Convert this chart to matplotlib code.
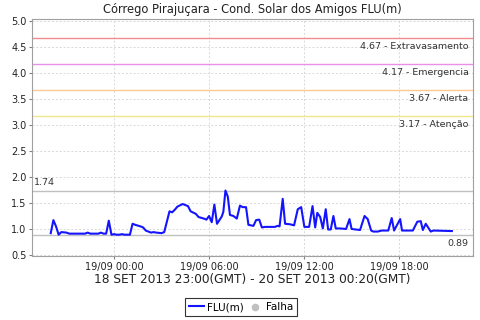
import matplotlib
matplotlib.use("Agg")
import matplotlib.pyplot as plt
import matplotlib.dates as mdates
from datetime import datetime, timedelta

title = "Córrego Pirajuçara - Cond. Solar dos Amigos FLU(m)"
xlabel = "18 SET 2013 23:00(GMT) - 20 SET 2013 00:20(GMT)"
start = datetime(2013, 9, 18, 20, 0)

minutes = [0, 10, 20, 30, 40, 60, 70, 130, 140, 150, 180, 190, 200, 210, 220, 230,
           240, 250, 260, 270, 280, 300, 310, 320, 340, 350, 360, 380, 390, 400, 420,
           430, 450, 460, 470, 480, 500, 510, 520, 530, 550, 560, 580, 590, 600, 610,
           620, 630, 648, 654, 662, 671, 679, 692, 705, 717, 727, 740, 749, 768, 778,
           790, 800, 812, 850, 859, 867, 879, 888, 907, 922, 936, 949, 961, 979, 992,
           1002, 1010, 1021, 1031, 1042, 1051, 1061, 1071, 1080, 1096, 1119, 1132, 1140,
           1172, 1189, 1201, 1214, 1222, 1239, 1254, 1279, 1292, 1301, 1324, 1331, 1372,
           1389, 1402, 1410, 1421, 1440, 1450, 1520]
flu = [0.92, 1.17, 1.05, 0.89, 0.94, 0.93, 0.91, 0.91, 0.93, 0.91, 0.91, 0.93, 0.91, 0.91, 1.16, 0.89,
       0.90, 0.89, 0.89, 0.90, 0.89, 0.89, 1.10, 1.08, 1.05, 1.03, 0.97, 0.93, 0.94, 0.93, 0.92,
       0.94, 1.34, 1.32, 1.37, 1.43, 1.48, 1.46, 1.44, 1.34, 1.29, 1.23, 1.20, 1.18, 1.25, 1.13,
       1.47, 1.10, 1.24, 1.33, 1.74, 1.62, 1.27, 1.25, 1.20, 1.45, 1.42, 1.42, 1.08, 1.06, 1.17,
       1.18, 1.03, 1.04, 1.04, 1.06, 1.05, 1.58, 1.10, 1.09, 1.07, 1.38, 1.42, 1.04, 1.04, 1.44,
       1.03, 1.31, 1.23, 1.01, 1.38, 0.99, 0.99, 1.25, 1.01, 1.01, 1.00, 1.19, 1.00,
       0.98, 1.25, 1.19, 0.97, 0.95, 0.95, 0.97, 0.97, 1.21, 0.97, 1.19, 0.97, 0.97,
       1.14, 1.15, 0.98, 1.10, 0.95, 0.97, 0.96]

thr_values = [4.67, 4.17, 3.67, 3.17]
thr_names = ["Extravasamento", "Emergencia", "Alerta", "Atenção"]
thr_colors = ["#f08c8c", "#e890e8", "#ffc890", "#f0e68c"]
max_val = 1.74
min_val = 0.89
yticks = [0.5, 1.0, 1.5, 2.0, 2.5, 3.0, 3.5, 4.0, 4.5, 5.0]
xtick_times = [datetime(2013, 9, 19, h, 0) for h in (0, 6, 12, 18)]

times = [start + timedelta(minutes=m) for m in minutes]

plt.rcParams['font.family'] = ['DejaVu Sans']
fig = plt.figure(figsize=(4.8, 3.2), dpi=100)
ax = fig.add_axes([32 / 480, 1 - 256 / 320, (473 - 32) / 480, (256 - 19) / 320])

for v, name, c in zip(thr_values, thr_names, thr_colors):
    ax.axhline(v, color=c, lw=1.0, zorder=2)
    ax.text(0.99, v - 0.08, f"{v:.2f} - {name}", transform=ax.get_yaxis_transform(),
            ha="right", va="top", fontsize=6.8, color="#333333")

ax.axhline(max_val, color="#c0c0c0", lw=1.0, zorder=2)
ax.text(0.005, max_val + 0.06, f"{max_val:.2f}", transform=ax.get_yaxis_transform(),
        ha="left", va="bottom", fontsize=6.8, color="#333333")
ax.axhline(min_val, color="#c0c0c0", lw=1.0, zorder=2)
ax.text(0.99, min_val - 0.08, f"{min_val:.2f}", transform=ax.get_yaxis_transform(),
        ha="right", va="top", fontsize=6.8, color="#333333")

line, = ax.plot(times, flu, color="#1414ff", lw=1.5, zorder=3, label="FLU(m)")

ax.set_ylim(0.48, 5.04)
ax.set_xlim(start - timedelta(minutes=71), start + timedelta(minutes=1600))
ax.set_yticks(yticks)
ax.set_yticklabels([f"{t:.1f}" for t in yticks])
ax.set_xticks(xtick_times)
ax.xaxis.set_major_formatter(mdates.DateFormatter("%d/%m %H:%M"))
ax.tick_params(labelsize=7, length=2, width=0.8, color="#808080", pad=2, labelcolor="#222222")
ax.grid(True, color="#d8d8d8", ls=(0, (2, 2)), lw=0.7, zorder=1)
for s in ax.spines.values():
    s.set_color("#a0a0a0")
    s.set_linewidth(0.8)

ax.set_title(title, fontsize=8.3, pad=4, color="#222222")
ax.set_xlabel(xlabel, fontsize=8.7, labelpad=1, color="#222222")

falha = ax.scatter([], [], s=20, color="#c0c0c0", label="Falha")
leg = fig.legend(handles=[line, falha], loc="center", bbox_to_anchor=(241 / 480, 1 - 307 / 320),
                 ncol=2, fontsize=7.5, frameon=True, fancybox=False, edgecolor="black",
                 handlelength=1.5, handletextpad=0.3, columnspacing=0.3, borderpad=0.35,
                 scatterpoints=1)
leg.get_frame().set_linewidth(0.8)

fig.savefig("out.png", dpi=100)
